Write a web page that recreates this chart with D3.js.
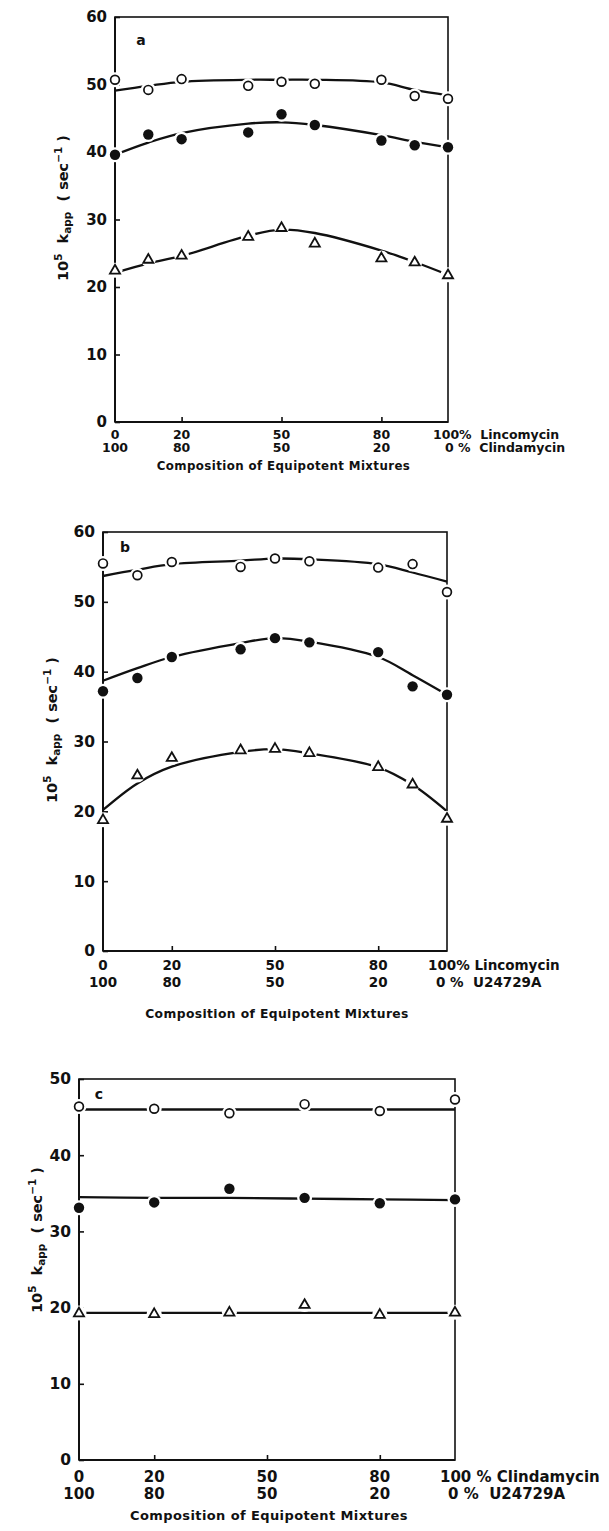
<!DOCTYPE html>
<html>
<head>
<meta charset="utf-8">
<script src="https://cdn.jsdelivr.net/npm/d3@7"></script>
<style>
  html, body { margin: 0; padding: 0; background: #fff; }
  svg { display: block; }
  text { font-family: "DejaVu Sans", sans-serif; font-weight: bold; fill: #111; white-space: pre; }
</style>
</head>
<body>
<svg id="chart" width="609" height="1531"></svg>
<script>
// Composition (% of first drug) for panels a and b, and for panel c
const compAB = [0, 10, 20, 40, 50, 60, 80, 90, 100];
const compC  = [0, 20, 40, 60, 80, 100];

// Panel a: Lincomycin / Clindamycin
const aOpen      = [50.7, 49.2, 50.8, 49.8, 50.4, 50.1, 50.7, 48.3, 47.9];
const aOpenFit   = [49.1, 49.8, 50.4, 50.7, 50.7, 50.7, 50.3, 49.2, 48.4];
const aFilled    = [39.6, 42.6, 41.9, 42.9, 45.6, 44.0, 41.7, 41.0, 40.7];
const aFilledFit = [39.6, 41.4, 42.8, 44.2, 44.4, 44.0, 42.5, 41.5, 40.7];
const aTri       = [22.5, 24.1, 24.7, 27.5, 28.8, 26.5, 24.3, 23.7, 21.8];
const aTriFit    = [22.1, 23.5, 24.6, 27.6, 28.5, 28.0, 25.4, 23.7, 21.8];

// Panel b: Lincomycin / U24729A
const bOpen      = [55.5, 53.8, 55.7, 55.0, 56.2, 55.8, 54.9, 55.4, 51.4];
const bOpenFit   = [53.7, 54.6, 55.4, 55.9, 56.2, 56.1, 55.4, 54.2, 52.9];
const bFilled    = [37.2, 39.1, 42.1, 43.2, 44.8, 44.2, 42.8, 37.9, 36.7];
const bFilledFit = [38.7, 40.5, 42.1, 44.1, 44.8, 44.3, 42.1, 39.5, 36.7];
const bTri       = [18.8, 25.2, 27.7, 28.8, 29.0, 28.4, 26.4, 23.9, 19.0];
const bTriFit    = [20.2, 24.0, 26.4, 28.5, 28.9, 28.3, 26.3, 23.8, 20.0];

// Panel c: Clindamycin / U24729A
const cOpen      = [46.4, 46.1, 45.5, 46.7, 45.8, 47.3];
const cOpenFit   = [46.0, 46.0, 46.0, 46.0, 46.0, 46.0];
const cFilled    = [33.1, 33.8, 35.6, 34.4, 33.7, 34.2];
const cFilledFit = [34.5, 34.4, 34.4, 34.3, 34.2, 34.1];
const cTri       = [19.3, 19.2, 19.4, 20.4, 19.1, 19.4];
const cTriFit    = [19.3, 19.3, 19.3, 19.3, 19.3, 19.3];

// Axis tick labels
const yTicksAB = [0, 10, 20, 30, 40, 50, 60];
const yTicksC  = [0, 10, 20, 30, 40, 50];
const xTicks   = [0, 20, 50, 80];
const xTopLabels = ["0", "20", "50", "80"];
const xBottomLabels = ["100", "80", "50", "20"];
const xTitle = "Composition of Equipotent Mixtures";

const svg = d3.select("#chart");

const panels = [
  {
    letter: "a", comp: compAB,
    series: [
      { pts: aOpen, fit: aOpenFit, kind: "open" },
      { pts: aFilled, fit: aFilledFit, kind: "filled" },
      { pts: aTri, fit: aTriFit, kind: "tri" }
    ],
    yMax: 60, yTicks: yTicksAB,
    xRange: [115, 448], yRange: [422, 17],
    letterPos: [141, 41],
    yTitlePos: [68, 208],
    xFont: 12.5, yFont: 15,
    row1: 13, row2: 26, titleDy: 44, titleFont: 11.8,
    end1: ["100%  Lincomycin", -15], end2: ["0 %  Clindamycin", -3]
  },
  {
    letter: "b", comp: compAB,
    series: [
      { pts: bOpen, fit: bOpenFit, kind: "open" },
      { pts: bFilled, fit: bFilledFit, kind: "filled" },
      { pts: bTri, fit: bTriFit, kind: "tri" }
    ],
    yMax: 60, yTicks: yTicksAB,
    xRange: [103, 447], yRange: [951, 532],
    letterPos: [125, 548],
    yTitlePos: [57, 730],
    xFont: 13.5, yFont: 15.5,
    row1: 15, row2: 32, titleDy: 63, titleFont: 12.3,
    end1: ["100% Lincomycin", -19], end2: ["0 %  U24729A", -11]
  },
  {
    letter: "c", comp: compC,
    series: [
      { pts: cOpen, fit: cOpenFit, kind: "open" },
      { pts: cFilled, fit: cFilledFit, kind: "filled" },
      { pts: cTri, fit: cTriFit, kind: "tri" }
    ],
    yMax: 50, yTicks: yTicksC,
    xRange: [79, 455], yRange: [1460, 1079],
    letterPos: [99, 1095],
    yTitlePos: [42, 1240],
    xFont: 15, yFont: 15.5,
    row1: 17, row2: 34, titleDy: 56, titleFont: 13,
    end1: ["100 % Clindamycin", -15], end2: ["0 %  U24729A", -7]
  }
];

panels.forEach(p => {
  const x = d3.scaleLinear().domain([0, 100]).range(p.xRange);
  const y = d3.scaleLinear().domain([0, p.yMax]).range(p.yRange);
  const g = svg.append("g");
  const [x0, x1] = p.xRange;
  const [yb, yt] = p.yRange;

  // frame
  g.append("rect")
    .attr("x", x0).attr("y", yt)
    .attr("width", x1 - x0).attr("height", yb - yt)
    .attr("fill", "none").attr("stroke", "#111").attr("stroke-width", 1.6);
  g.append("line").attr("x1", x0).attr("x2", x1).attr("y1", yb).attr("y2", yb)
    .attr("stroke", "#111").attr("stroke-width", 2);
  g.append("line").attr("x1", x0).attr("x2", x0).attr("y1", yt).attr("y2", yb)
    .attr("stroke", "#111").attr("stroke-width", 2);

  // y axis: inward ticks
  const yAxis = d3.axisLeft(y).tickValues(p.yTicks).tickSize(-5).tickPadding(8)
    .tickFormat(d3.format("d"));
  const ya = g.append("g").attr("transform", `translate(${x0},0)`).call(yAxis);
  ya.select(".domain").remove();
  ya.selectAll(".tick line").attr("stroke", "#111").attr("stroke-width", 1.6);
  ya.selectAll(".tick text").attr("font-size", p.yFont).attr("fill", "#111")
    .attr("font-family", "DejaVu Sans").attr("font-weight", "bold");

  // x axis: inward ticks, labels drawn in two rows below
  const xAxis = d3.axisBottom(x).tickValues([20, 50, 80]).tickSize(-5).tickFormat("");
  const xa = g.append("g").attr("transform", `translate(0,${yb})`).call(xAxis);
  xa.select(".domain").remove();
  xa.selectAll(".tick line").attr("stroke", "#111").attr("stroke-width", 1.6);

  xTicks.forEach((v, i) => {
    g.append("text").attr("x", x(v)).attr("y", yb + p.row1)
      .attr("text-anchor", "middle").attr("dominant-baseline", "middle")
      .attr("font-size", p.xFont).text(xTopLabels[i]);
    g.append("text").attr("x", x(v)).attr("y", yb + p.row2)
      .attr("text-anchor", "middle").attr("dominant-baseline", "middle")
      .attr("font-size", p.xFont).text(xBottomLabels[i]);
  });
  g.append("text").attr("x", x(100) + p.end1[1]).attr("y", yb + p.row1)
    .attr("dominant-baseline", "middle").attr("font-size", p.xFont).text(p.end1[0]);
  g.append("text").attr("x", x(100) + p.end2[1]).attr("y", yb + p.row2)
    .attr("dominant-baseline", "middle").attr("font-size", p.xFont).text(p.end2[0]);

  g.append("text").attr("x", (x0 + x1) / 2 + 2).attr("y", yb + p.titleDy)
    .attr("text-anchor", "middle").attr("dominant-baseline", "middle")
    .attr("font-size", p.titleFont).attr("letter-spacing", 0.4).text(xTitle);

  // panel letter
  g.append("text").attr("x", p.letterPos[0]).attr("y", p.letterPos[1])
    .attr("text-anchor", "middle").attr("dominant-baseline", "middle")
    .attr("font-size", 14).text(p.letter);

  // y axis title: 10^5 k_app (sec^-1)
  const yt2 = g.append("text")
    .attr("transform", `translate(${p.yTitlePos[0]},${p.yTitlePos[1]}) rotate(-90)`)
    .attr("text-anchor", "middle").attr("font-size", 14.5);
  yt2.append("tspan").text("10");
  yt2.append("tspan").attr("dy", -6).attr("font-size", 10.5).text("5");
  yt2.append("tspan").attr("dy", 6).text("  k");
  yt2.append("tspan").attr("dy", 3).attr("font-size", 10.5).text("app");
  yt2.append("tspan").attr("dy", -3).text("  ( sec");
  yt2.append("tspan").attr("dy", -6).attr("font-size", 10.5).text("−1");
  yt2.append("tspan").attr("dy", 6).text(" )");

  // fitted curves
  const line = d3.line().x((d, i) => x(p.comp[i])).y(d => y(d)).curve(d3.curveCatmullRom.alpha(0.5));
  p.series.forEach(s => {
    g.append("path").attr("d", line(s.fit))
      .attr("fill", "none").attr("stroke", "#111").attr("stroke-width", 2.3);
  });

  // markers with a white halo that breaks the curve around each point
  const tri = d3.symbol().type(d3.symbolTriangle).size(44);
  p.series.forEach(s => {
    s.pts.forEach((v, i) => {
      const cx = x(p.comp[i]), cy = y(v);
      g.append("circle").attr("cx", cx).attr("cy", cy).attr("r", 7.5).attr("fill", "#fff");
      if (s.kind === "open") {
        g.append("circle").attr("cx", cx).attr("cy", cy).attr("r", 4.4)
          .attr("fill", "#fff").attr("stroke", "#111").attr("stroke-width", 1.7);
      } else if (s.kind === "filled") {
        g.append("circle").attr("cx", cx).attr("cy", cy).attr("r", 5.2).attr("fill", "#111");
      } else {
        g.append("path").attr("d", tri).attr("transform", `translate(${cx},${cy + 0.5})`)
          .attr("fill", "#fff").attr("stroke", "#111").attr("stroke-width", 1.8);
      }
    });
  });
});
</script>
</body>
</html>
